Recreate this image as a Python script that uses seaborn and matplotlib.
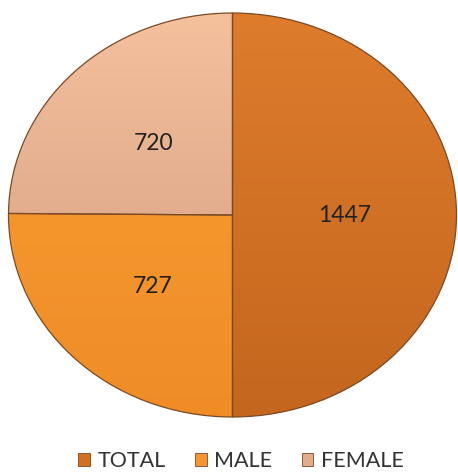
import matplotlib.pyplot as plt
import matplotlib.patches as mpatches
from matplotlib.colors import LinearSegmentedColormap
import numpy as np
import seaborn as sns

categories = ["TOTAL", "MALE", "FEMALE"]
counts = [1447, 727, 720]

sns.set_theme(style="white")
plt.rcParams['font.family'] = ['Lato', 'DejaVu Sans']

# light top / dark bottom for each slice, mid colour for the legend
shades = {
    "TOTAL": ("#DE7C2C", "#C4661E", "#D3701F"),
    "MALE": ("#FAA034", "#EF8C26", "#F49530"),
    "FEMALE": ("#F5C09C", "#D09A80", "#E2AC8C"),
}
palette = [shades[c][2] for c in categories]

fig = plt.figure(figsize=(4.58, 4.75), dpi=100)
ax = fig.add_axes([8.5 / 458, 58 / 475, 448 / 458, 404 / 475])

total = sum(counts)
wedges, texts, autotexts = ax.pie(
    counts, colors=palette, startangle=90, counterclock=False,
    autopct=lambda p: f"{round(p * total / 100)}", pctdistance=0.5,
    wedgeprops=dict(edgecolor="#7a4a25", linewidth=0.9),
    textprops=dict(fontsize=16.5, color="#222222"),
)

# vertical gradient inside each wedge
grad = np.linspace(0, 1, 256).reshape(-1, 1)
for w, c in zip(wedges, categories):
    cmap = LinearSegmentedColormap.from_list(c, [shades[c][0], shades[c][1]])
    im = ax.imshow(grad, cmap=cmap, extent=(-1, 1, -1, 1), aspect="auto",
                   origin="upper", zorder=w.get_zorder() - 0.1)
    im.set_clip_path(w)
    w.set_facecolor("none")

for t in autotexts:
    t.set_zorder(5)

ax.set_aspect("auto")
ax.set_xlim(-1.0, 1.0)
ax.set_ylim(-1.0, 1.0)
ax.axis("off")

handles = [mpatches.Patch(facecolor=palette[i], edgecolor="#7a4a25", linewidth=0.6,
                          label=categories[i]) for i in range(len(categories))]
fig.legend(handles=handles, loc="center", bbox_to_anchor=(241 / 458, 1 - 461 / 475),
           ncol=3, frameon=False, fontsize=15.5, handlelength=0.55, handleheight=0.55,
           handletextpad=0.35, columnspacing=1.35, labelcolor="#333333")

fig.savefig("out.png", dpi=100, facecolor="white")
